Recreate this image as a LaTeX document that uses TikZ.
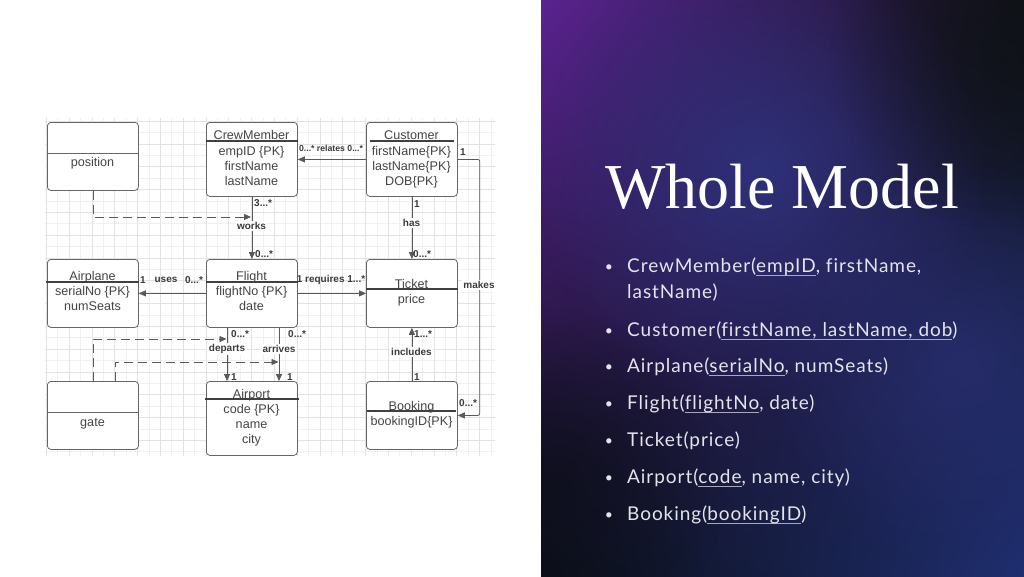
\documentclass[tikz,border=0pt]{standalone}
\usepackage{fontspec}
\setmainfont{Liberation Sans}
\newfontfamily\titlefont{Liberation Serif}
\newfontfamily\bulletfont[LetterSpace=5,Ligatures=NoCommon]{Lato}
\usetikzlibrary{arrows.meta,calc,fadings,shadings}
\definecolor{boxline}{HTML}{666666}
\definecolor{boxtext}{HTML}{444444}
\definecolor{lbl}{HTML}{3A3A3A}
\definecolor{gridc}{HTML}{E2E2E2}
\definecolor{gridm}{HTML}{F0F0F0}
\definecolor{bullc}{HTML}{E4E4EC}
\definecolor{ulc}{HTML}{A8A8BC}
\definecolor{cUL}{HTML}{5A2390}
\definecolor{cUR}{HTML}{0F1216}
\definecolor{cLL}{HTML}{0B0F18}
\definecolor{cLR}{HTML}{1F2E70}
\definecolor{glowc}{HTML}{2E3480}
\newsavebox\ulbox
\newcommand{\ulk}[1]{\sbox\ulbox{#1}\rlap{\color{ulc}\rule[-3.4pt]{\wd\ulbox}{0.8pt}}\usebox\ulbox}
\tikzfading[name=glowfade, inner color=transparent!0, outer color=transparent!100]
\begin{document}
\begin{tikzpicture}[x=1pt,y=-1pt,
  box/.style={draw=boxline,line width=0.8pt,rounded corners=3.5pt,fill=white,minimum width=91pt,anchor=north west,inner sep=0pt},
  ent/.style={font=\fontsize{12.6}{15}\selectfont,text=boxtext,anchor=base,inner sep=0pt},
  tline/.style={draw=black!75,line width=1.2pt},
  divline/.style={draw=boxline,line width=0.8pt},
  lab/.style={font=\bfseries\fontsize{10}{12}\selectfont,text=lbl,inner sep=1pt},
  labw/.style={lab,fill=white,inner sep=1.5pt},
  conn/.style={draw=black!65,line width=0.8pt},
  arr/.style={conn,-{Triangle[length=7pt,width=6pt]}},
  dasharr/.style={arr,dash pattern=on 9pt off 5pt},
  bul/.style={font=\bulletfont\fontsize{19}{22}\selectfont,text=bullc,anchor=base west,inner sep=0pt},
  dot/.style={font=\bulletfont\fontsize{14}{16}\selectfont,text=bullc,anchor=base,inner sep=0pt}
]
\useasboundingbox (0,0) rectangle (1024,576);
\fill[white] (0,0) rectangle (1024,576);

% ---- right panel ----
\begin{scope}
\clip (541,0) rectangle (1024,576);
\shade[upper left=cUL,upper right=cUR,lower left=cLL,lower right=cLR] (541,0) rectangle (1024,576);
\fill[glowc,path fading=glowfade,fill opacity=0.85] (760,170) circle (230);
\fill[glowc,path fading=glowfade,fill opacity=0.55] (960,360) circle (200);
\fill[cUR,path fading=glowfade,fill opacity=0.7] (1000,60) circle (170);
\fill[cLL,path fading=glowfade,fill opacity=0.7] (560,480) circle (170);
\end{scope}

\node[anchor=base west,font=\titlefont\fontsize{64}{64}\selectfont,text=white,inner sep=0pt] (title) at (605,208) {Whole Model};

\node[dot] (d1) at (609,271) {•};
\node[bul] (b1) at (627,272) {CrewMember(\ulk{empID}, firstName,};
\node[bul] (b1b) at (627,298) {lastName)};
\node[dot] (d2) at (609,335) {•};
\node[bul] (b2) at (627,336) {Customer(\ulk{firstName, lastName, dob})};
\node[dot] (d3) at (609,371) {•};
\node[bul] (b3) at (627,372) {Airplane(\ulk{serialNo}, numSeats)};
\node[dot] (d4) at (609,408) {•};
\node[bul] (b4) at (627,409) {Flight(\ulk{flightNo}, date)};
\node[dot] (d5) at (609,445) {•};
\node[bul] (b5) at (627,446) {Ticket(price)};
\node[dot] (d6) at (609,482) {•};
\node[bul] (b6) at (627,483) {Airport(\ulk{code}, name, city)};
\node[dot] (d7) at (609,519) {•};
\node[bul] (b7) at (627,520) {Booking(\ulk{bookingID})};

% ---- grid ----
\begin{scope}
\clip (45,118) rectangle (495,456);
\foreach \i in {0,...,20} { \draw[gridm,line width=0.5pt] ({57.6+22.8*\i},118) -- ++(0,338); }
\foreach \j in {0,...,15} { \draw[gridm,line width=0.5pt] (45,{132.4+22.8*\j}) -- ++(450,0); }
\foreach \i in {0,...,20} { \draw[gridc,line width=0.6pt] ({46.2+22.8*\i},118) -- ++(0,338); }
\foreach \j in {0,...,15} { \draw[gridc,line width=0.6pt] (45,{121+22.8*\j}) -- ++(450,0); }
\end{scope}

% ---- boxes ----
\node[box,minimum height=68pt] (pos) at (47,122) {};
\node[box,minimum height=74pt] (cm) at (206,122) {};
\node[box,minimum height=74pt] (cu) at (366,122) {};
\node[box,minimum height=68pt] (apl) at (47,259) {};
\node[box,minimum height=68pt] (fl) at (206,259) {};
\node[box,minimum height=68pt] (tk) at (366,259) {};
\node[box,minimum height=68pt] (gt) at (47,381) {};
\node[box,minimum height=74pt] (apt) at (206,381) {};
\node[box,minimum height=68pt] (bk) at (366,381) {};

% position
\draw[divline] ($(pos.north west)+(0,31)$) -- ($(pos.north east)+(0,31)$);
\node[ent] (posT) at (92.5,166) {position};
% gate
\draw[divline] ($(gt.north west)+(0,31)$) -- ($(gt.north east)+(0,31)$);
\node[ent] (gtT) at (92.5,426) {gate};
% CrewMember
\node[ent] (cmT) at (251.5,139) {CrewMember};
\draw[tline] ($(cm.north west)+(0,19)$) -- ($(cm.north east)+(0,19)$);
\node[ent] (cm1) at (251.5,155) {empID \{PK\}};
\node[ent] (cm2) at (251.5,170) {firstName};
\node[ent] (cm3) at (251.5,185) {lastName};
% Customer
\node[ent] (cuT) at (411.5,139) {Customer};
\draw[tline] ($(cu.north west)+(4,19)$) -- ($(cu.north east)+(-4,19)$);
\node[ent] (cu1) at (411.5,155) {firstName\{PK\}};
\node[ent] (cu2) at (411.5,170) {lastName\{PK\}};
\node[ent] (cu3) at (411.5,185) {DOB\{PK\}};
% Airplane
\node[ent] (aplT) at (92.5,280) {Airplane};
\draw[tline] ($(apl.north west)+(-1,23)$) -- ($(apl.north east)+(0,23)$);
\node[ent] (apl1) at (92.5,295) {serialNo \{PK\}};
\node[ent] (apl2) at (92.5,310) {numSeats};
% Flight
\node[ent] (flT) at (251.5,280) {Flight};
\draw[tline] ($(fl.north west)+(0,23)$) -- ($(fl.north east)+(0,23)$);
\node[ent] (fl1) at (251.5,295) {flightNo \{PK\}};
\node[ent] (fl2) at (251.5,310) {date};
% Ticket
\node[ent] (tkT) at (411.5,288) {Ticket};
\draw[tline] ($(tk.north west)+(0,30)$) -- ($(tk.north east)+(0,30)$);
\node[ent] (tk1) at (411.5,303) {price};
% Airport
\node[ent] (aptT) at (251.5,398) {Airport};
\draw[tline] ($(apt.north west)+(-1,18)$) -- ($(apt.north east)+(1,18)$);
\node[ent] (apt1) at (251.5,413) {code \{PK\}};
\node[ent] (apt2) at (251.5,428) {name};
\node[ent] (apt3) at (251.5,443) {city};
% Booking
\node[ent] (bkT) at (411.5,410) {Booking};
\draw[tline] ($(bk.north west)+(1,30)$) -- ($(bk.north east)+(-2,30)$);
\node[ent] (bk1) at (411.5,425) {bookingID\{PK\}};

% ---- connectors ----
\coordinate (dx) at (227,0);
\coordinate (ax) at (279,0);
\coordinate (g2) at (115,0);
\coordinate (wk) at (251,217);
\coordinate (dp) at (226.5,339);
\coordinate (ar) at (278.5,362);

\draw[arr] (cu.west) -- (cm.east);
\draw[arr] (cm.south) -- (fl.north);
\draw[arr] (cu.south) -- (tk.north);
\draw[arr] (fl.west) -- (apl.east);
\draw[arr] (fl.east) -- (tk.west);
\draw[arr] (bk.north) -- (tk.south);
\draw[arr,rounded corners=2pt] (cu.east) -- ($(cu.east)+(22,0)$) |- (bk.east);
\draw[arr] (fl.south -| dx) -- (apt.north -| dx);
\draw[arr] (fl.south -| ax) -- (apt.north -| ax);
\draw[dasharr] (pos.south) |- (wk);
\draw[dasharr] (gt.north) |- (dp);
\draw[dasharr] (gt.north -| g2) |- (ar);

% ---- labels ----
\node[lab,font=\bfseries\fontsize{8.7}{10}\selectfont] (lrel) at (331,148) {0...* relates 0...*};
\node[lab,anchor=west] (lw1) at (253,203) {3...*};
\node[labw] (lwk) at (251.5,226) {works};
\node[lab,anchor=west] (lw2) at (254,254) {0...*};
\node[lab,anchor=west] (lh1) at (413,204) {1};
\node[labw] (lhas) at (411.5,223) {has};
\node[lab,anchor=west] (lh2) at (412,254) {0...*};
\node[lab] (lu1) at (143,280) {1};
\node[lab] (luse) at (166,280) {uses};
\node[lab] (lu2) at (194,280) {0...*};
\node[lab] (lreq) at (331,280) {1 requires 1...*};
\node[labw] (lmk) at (479,285) {makes};
\node[lab,anchor=west] (lm1) at (459,152) {1};
\node[lab,anchor=west] (lm2) at (458,403) {0...*};
\node[lab,anchor=west] (li1) at (413,334) {1...*};
\node[labw] (linc) at (411.5,352) {includes};
\node[lab,anchor=west] (li2) at (413,377) {1};
\node[lab,anchor=west] (ld1) at (230,334) {0...*};
\node[labw] (ldep) at (227,349) {departs};
\node[lab,anchor=west] (ld2) at (230,377) {1};
\node[lab,anchor=west] (la1) at (287,334) {0...*};
\node[labw] (larr) at (279,349) {arrives};
\node[lab,anchor=west] (la2) at (286,377) {1};
\end{tikzpicture}
\end{document}
